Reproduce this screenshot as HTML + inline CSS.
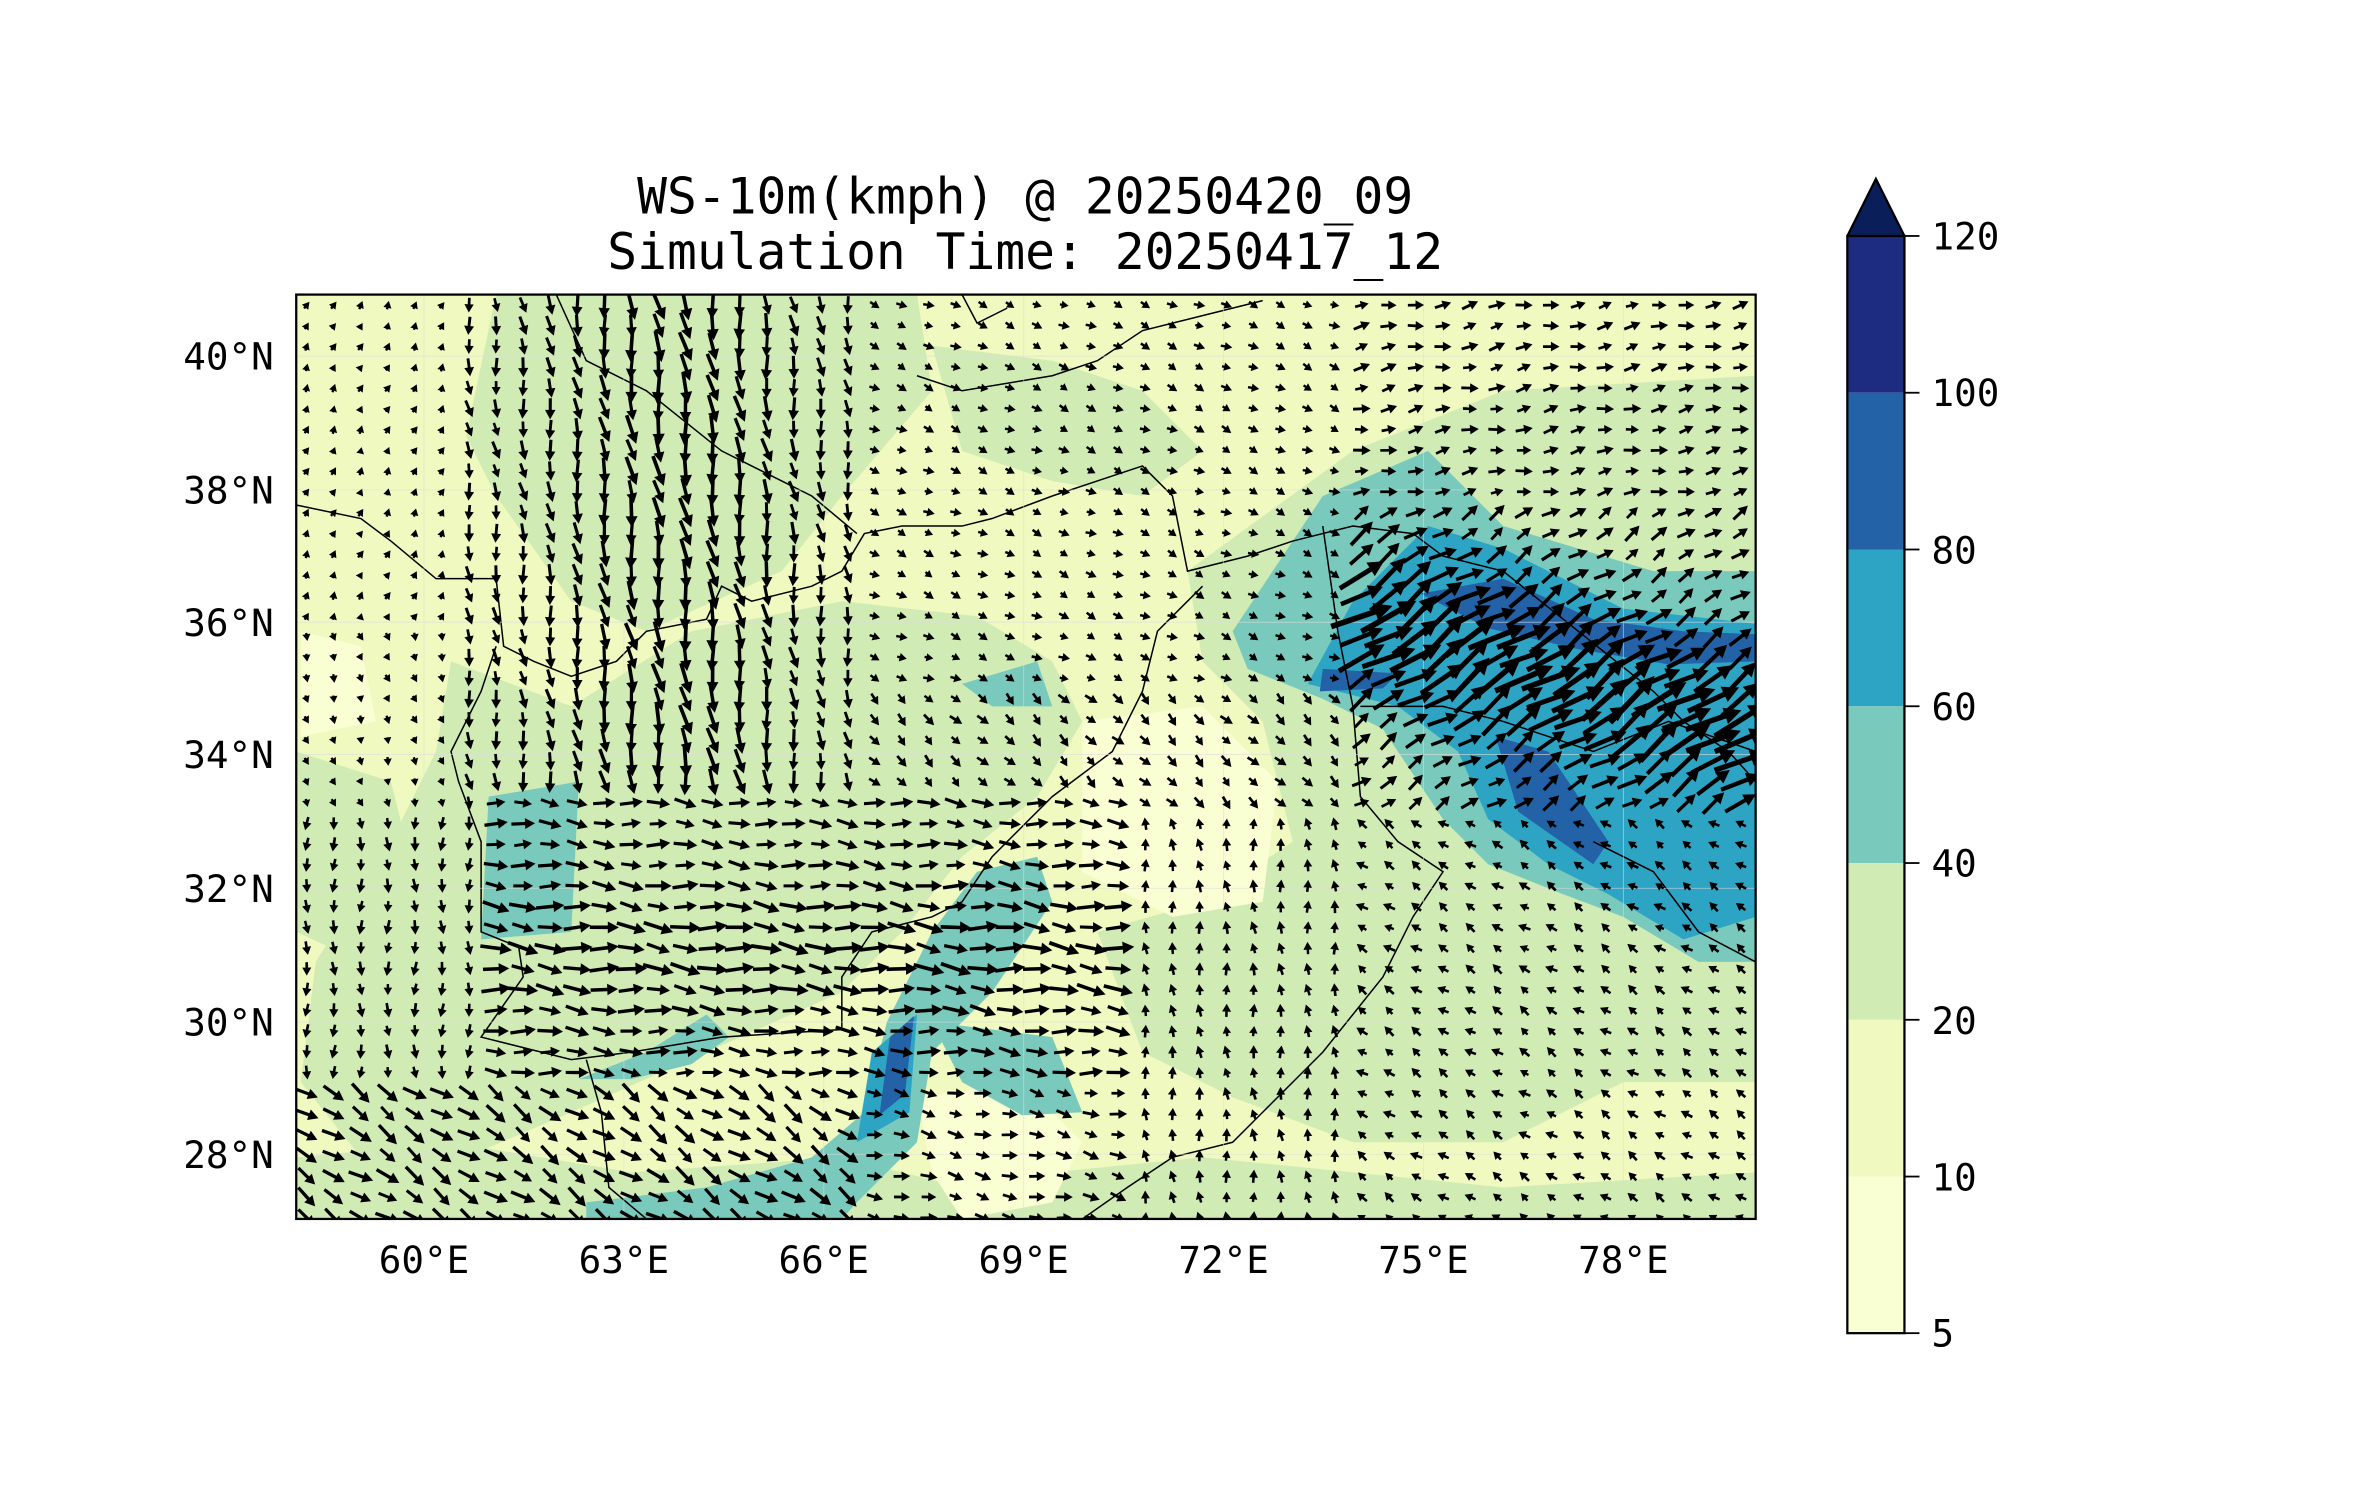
<!DOCTYPE html>
<html><head><meta charset="utf-8"><style>
html,body{margin:0;padding:0;background:#fff;width:2357px;height:1500px;overflow:hidden}
svg{display:block}
text{font-family:"DejaVu Sans Mono","Liberation Mono",monospace;fill:#000}
</style></head><body>
<svg id="s" width="2357" height="1500" viewBox="0 0 1568 998" xmlns="http://www.w3.org/2000/svg">
<defs><clipPath id="c"><rect x="197" y="196" width="971" height="615"/></clipPath></defs>
<text x="682" y="142" font-size="33" text-anchor="middle">WS-10m(kmph) @ 20250420_09</text>
<text x="682" y="179" font-size="33" text-anchor="middle">Simulation Time: 20250417_12</text>
<g clip-path="url(#c)">
<rect x="197" y="196" width="971" height="615" fill="#f0f9bf"/>
<g fill="#d0ecb4">
<polygon points="330,196 610,196 620,260 560,330 520,380 430,420 380,400 330,330 310,290"/>
<polygon points="300,440 380,470 460,420 560,400 650,410 700,440 720,480 690,530 640,570 600,620 560,660 470,700 380,740 310,770 240,770 200,720 210,640 260,560 290,500"/>
<polygon points="790,380 900,300 1000,260 1168,250 1168,720 1080,720 1000,760 900,760 820,730 760,700 730,620 800,600 860,560 840,480 800,440"/>
<polygon points="197,770 300,760 420,780 560,770 640,790 700,780 800,770 900,780 1000,790 1168,780 1168,811 197,811"/>
<polygon points="197,500 260,520 280,600 240,640 197,620"/>
<polygon points="620,230 700,240 760,260 800,300 760,330 700,320 640,300"/>
</g>
<g fill="#fafed3">
<polygon points="720,480 800,470 850,520 840,600 780,610 720,580"/>
<polygon points="610,730 680,720 720,760 700,800 640,811 620,780"/>
<polygon points="200,420 240,430 250,480 200,490"/>
</g>
<g fill="#79c9bc">
<polygon points="325,530 385,520 380,620 320,625"/>
<polygon points="690,570 700,600 660,660 620,700 610,760 570,800 560,811 390,811 390,800 470,790 540,770 575,740 590,680 620,620 650,580"/>
<polygon points="385,718 430,700 470,675 485,690 460,708 420,718"/>
<polygon points="620,680 700,690 720,740 680,742 640,720"/>
<polygon points="820,420 880,330 950,300 1000,350 1100,380 1168,380 1168,640 1130,640 1080,610 1040,595 990,575 960,545 920,485 880,465 830,445"/>
<polygon points="640,455 690,440 700,470 660,470"/>
</g>
<g fill="#2ea4c4">
<polygon points="870,455 900,400 950,350 1000,365 1080,405 1168,415 1168,610 1120,625 1070,595 1030,575 990,545 970,500 930,470"/>
<polygon points="580,700 610,675 605,740 570,760"/>
</g>
<g fill="#2462a8">
<polygon points="945,395 1000,385 1060,412 1120,420 1168,422 1168,440 1110,442 1050,432 990,418"/>
<polygon points="995,490 1030,500 1070,560 1060,575 1010,540"/>
<polygon points="592,690 608,676 602,728 585,742"/>
<polygon points="880,445 930,448 920,458 878,460"/>
</g>
<g fill="none" stroke="#000" stroke-width="1">
<polyline points="197,336 240,345 260,360 290,385 330,385 335,430 355,440 380,450 410,440 430,420 470,412 480,390 500,400 540,390 560,380 575,355 600,350 640,350 660,345 700,330 730,320 760,310 780,330 790,380 830,370 860,360 900,350 940,355 960,370 1000,380 1050,420 1100,460 1120,480 1150,500 1168,520"/>
<polyline points="370,196 390,240 430,260 480,300 540,330 570,355"/>
<polyline points="330,430 320,460 300,500 305,520 320,560 320,620 345,630 348,650 320,690 380,705 420,700 480,690 560,685 560,650 580,620 620,610 640,600 660,570 700,530 740,500 760,460 770,420 800,390"/>
<polyline points="390,705 400,740 405,790 430,811"/>
<polyline points="880,350 890,420 900,470 905,530 930,560 960,580 940,610 920,650 880,700 840,740 820,760 780,770 750,790 720,811"/>
<polyline points="905,470 960,470 1000,480 1060,500 1110,480 1168,500"/>
<polyline points="1060,560 1100,580 1130,620 1168,640"/>
<polyline points="610,250 640,260 700,250 730,240 760,220 800,210 840,200"/>
<polyline points="640,196 650,215 670,205"/>
</g>
<g stroke="#ddd" stroke-width="0.6" opacity="0.6">
<line x1="282" y1="196" x2="282" y2="811"/><line x1="415" y1="196" x2="415" y2="811"/><line x1="548" y1="196" x2="548" y2="811"/><line x1="681" y1="196" x2="681" y2="811"/><line x1="814" y1="196" x2="814" y2="811"/><line x1="947" y1="196" x2="947" y2="811"/><line x1="1080" y1="196" x2="1080" y2="811"/>
<line x1="197" y1="237" x2="1168" y2="237"/><line x1="197" y1="326" x2="1168" y2="326"/><line x1="197" y1="414" x2="1168" y2="414"/><line x1="197" y1="502" x2="1168" y2="502"/><line x1="197" y1="591" x2="1168" y2="591"/><line x1="197" y1="680" x2="1168" y2="680"/><line x1="197" y1="768" x2="1168" y2="768"/>
</g>
<g id="q" fill="#000"></g>
</g>
<rect x="197" y="196" width="971" height="615" fill="none" stroke="#000" stroke-width="1.5"/>
<g font-size="25" text-anchor="end">
<text x="182" y="246">40°N</text><text x="182" y="335">38°N</text><text x="182" y="423">36°N</text><text x="182" y="511">34°N</text><text x="182" y="600">32°N</text><text x="182" y="689">30°N</text><text x="182" y="777">28°N</text>
</g>
<g font-size="25" text-anchor="middle">
<text x="282" y="847">60°E</text><text x="415" y="847">63°E</text><text x="548" y="847">66°E</text><text x="681" y="847">69°E</text><text x="814" y="847">72°E</text><text x="947" y="847">75°E</text><text x="1080" y="847">78°E</text>
</g>
<g>
<rect x="1229" y="157" width="38" height="104.3" fill="#1d2c80"/>
<rect x="1229" y="261.3" width="38" height="104.3" fill="#2462a8"/>
<rect x="1229" y="365.6" width="38" height="104.3" fill="#2ea4c4"/>
<rect x="1229" y="469.9" width="38" height="104.3" fill="#79c9bc"/>
<rect x="1229" y="574.2" width="38" height="104.3" fill="#d0ecb4"/>
<rect x="1229" y="678.5" width="38" height="104.3" fill="#f0f9bf"/>
<rect x="1229" y="782.8" width="38" height="104.2" fill="#fafed3"/>
<polygon points="1229,157 1248,119 1267,157" fill="#0a1f5a"/>
<polyline points="1229,157 1248,119 1267,157" fill="none" stroke="#000" stroke-width="1.5"/>
<rect x="1229" y="157" width="38" height="730" fill="none" stroke="#000" stroke-width="1.5"/>
<g stroke="#000" stroke-width="1.2">
<line x1="1267" y1="157" x2="1277" y2="157"/><line x1="1267" y1="261.3" x2="1277" y2="261.3"/><line x1="1267" y1="365.6" x2="1277" y2="365.6"/><line x1="1267" y1="469.9" x2="1277" y2="469.9"/><line x1="1267" y1="574.2" x2="1277" y2="574.2"/><line x1="1267" y1="678.5" x2="1277" y2="678.5"/><line x1="1267" y1="782.8" x2="1277" y2="782.8"/><line x1="1267" y1="887" x2="1277" y2="887"/>
</g>
<g font-size="25">
<text x="1285" y="166">120</text><text x="1285" y="270">100</text><text x="1285" y="375">80</text><text x="1285" y="479">60</text><text x="1285" y="583">40</text><text x="1285" y="688">20</text><text x="1285" y="792">10</text><text x="1285" y="896">5</text>
</g>
</g>
</svg>
<script>
(function(){
var g=document.getElementById('q'),h='';
function lon(x){return 58.08+(x-197)/44.33;}
function lat(y){return 40.93-(y-196)/44.25;}
function field(L,P){
 var u=0,v=0,s=8;
 if(P>33.5&&L<66.5&&L>60.5){u=0.15;v=-1;s=12+10*Math.exp(-Math.pow(L-63.8,2)/3);}
 else if(L<=60.5&&P>33){u=0.3;v=(P>36?0.6:-0.8);s=6;}
 else if(L>=74&&P>=33&&P<=37.8){u=0.85;v=0.55;s=14+30*Math.exp(-Math.pow((P-35.2-(L-77)*-0.3),2)/1.2);}
 else if(L>=74&&P>37.8){u=1;v=0.2;s=12;}
 else if(L>=66.5&&L<74&&P>35){u=0.7;v=-0.3;s=8;}
 else if(L>=61&&L<70.5&&P>=29&&P<=33.5){u=1;v=-0.1;s=16+6*Math.exp(-Math.pow(P-31,2));}
 else if(L>=70.5&&L<74&&P<33){u=-0.1;v=1;s=9;}
 else if(L>=74&&P<33){u=-0.6;v=0.4;s=9;}
 else if(L<66.5&&P<29){u=0.9;v=-0.6;s=18;}
 else if(L>=66.5&&P<29.5){u=0.9;v=-0.2;s=12;}
 else if(L<61){u=0;v=-1;s=10;}
 else {u=0.6;v=-0.6;s=10;}
 var ph=Math.sin(L*3.1+P*2.3)*0.25;
 var cu=Math.cos(ph),su=Math.sin(ph);
 var uu=u*cu-v*su,vv=u*su+v*cu,n=Math.hypot(uu,vv)||1;
 return [uu/n,vv/n,s*(0.85+0.3*Math.abs(Math.sin(L*7+P*5)))];
}
for(var y=203;y<811;y+=13.8){for(var x=204;x<1168;x+=18){
 var f=field(lon(x),lat(y)),dx=f[0],dy=-f[1],len=f[2]*0.85;
 if(len<2)continue;
 var px=-dy,py=dx,w=0.6+len*0.03,hw=2.2+len*0.09,hl=3.5+len*0.2;
 var x0=x-dx*len/2,y0=y-dy*len/2,x1=x+dx*len/2,y1=y+dy*len/2;
 var bx=x1-dx*hl,by=y1-dy*hl;
 var pts=[[x0+px*w,y0+py*w],[bx+px*w,by+py*w],[bx+px*hw,by+py*hw],[x1,y1],[bx-px*hw,by-py*hw],[bx-px*w,by-py*w],[x0-px*w,y0-py*w]];
 h+='<polygon points="'+pts.map(function(p){return p[0].toFixed(1)+','+p[1].toFixed(1)}).join(' ')+'"/>';
}}
g.innerHTML=h;
})();
</script>
</body></html>
